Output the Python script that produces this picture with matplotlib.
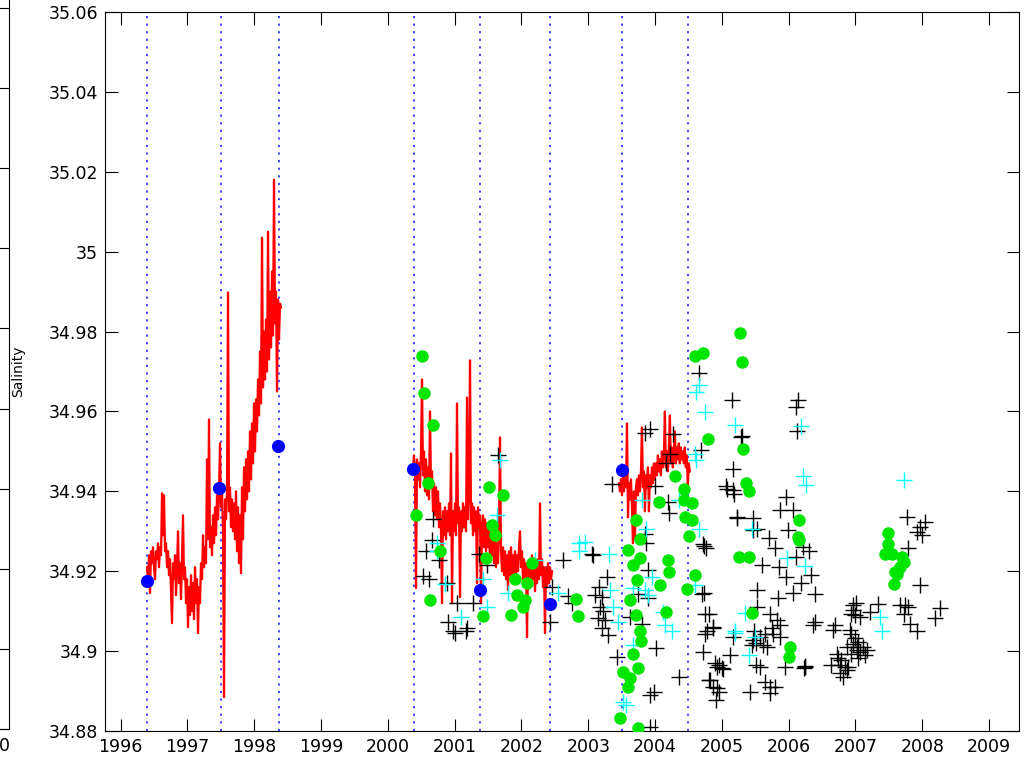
import numpy as np
import matplotlib
matplotlib.use("Agg")
import matplotlib.pyplot as plt
from matplotlib.ticker import FuncFormatter

# cruise / service dates (vertical dotted lines)
visit_years = [1996.39, 1997.50, 1998.37, 2000.39, 2001.38, 2002.43, 2003.51, 2004.49]

# CTD casts at the mooring visits
ctd_year = [1996.394, 1997.476, 1998.360, 2000.380, 2001.379, 2002.427, 2003.504]
ctd_sal = [34.9176, 34.9409, 34.9513, 34.9457, 34.9153, 34.9117, 34.9454]

# moored sensor records, evenly sampled between start and end
seg1_start, seg1_end = 1996.394, 1998.400
seg1_sal = [
    34.921, 34.917, 34.924, 34.9145, 34.925, 34.922, 34.926, 34.921, 34.918, 34.925,
    34.923, 34.927, 34.921, 34.926, 34.924, 34.9395, 34.929, 34.939, 34.925, 34.927,
    34.921, 34.925, 34.919, 34.923, 34.915, 34.907, 34.922, 34.918, 34.924, 34.914,
    34.921, 34.930, 34.917, 34.922, 34.913, 34.924, 34.934, 34.918, 34.921, 34.912,
    34.918, 34.906, 34.916, 34.909, 34.919, 34.910, 34.917, 34.908, 34.921, 34.912,
    34.918, 34.9045, 34.916, 34.912, 34.922, 34.918, 34.929, 34.921, 34.926, 34.922,
    34.948, 34.928, 34.958, 34.926, 34.931, 34.924, 34.934, 34.927, 34.936, 34.929,
    34.939, 34.933, 34.940, 34.952, 34.936, 34.940, 34.930, 34.8885, 34.938, 34.933,
    34.940, 34.9898, 34.935, 34.941, 34.931, 34.938, 34.930, 34.937, 34.928, 34.940,
    34.925, 34.936, 34.922, 34.934, 34.9195, 34.941, 34.928, 34.946, 34.935, 34.948,
    34.938, 34.950, 34.940, 34.955, 34.943, 34.957, 34.947, 34.962, 34.950, 34.963,
    34.955, 34.968, 34.959, 34.975, 34.962, 35.0035, 34.966, 34.980, 34.968, 34.983,
    34.970, 35.005, 34.973, 34.990, 34.976, 34.995, 34.979, 35.018, 34.982, 34.990,
    34.965, 34.988, 34.978, 34.987, 34.986,
]
seg2_start, seg2_end = 2000.376, 2002.457
seg2_sal = [
    34.946, 34.949, 34.944, 34.9158, 34.948, 34.943, 34.947, 34.941, 34.950, 34.968,
    34.944, 34.950, 34.940, 34.948, 34.939, 34.946, 34.938, 34.960, 34.941, 34.945,
    34.935, 34.942, 34.934, 34.941, 34.933, 34.940, 34.931, 34.937, 34.930, 34.912,
    34.935, 34.929, 34.936, 34.928, 34.935, 34.930, 34.937, 34.929, 34.9495, 34.912,
    34.935, 34.930, 34.937, 34.929, 34.962, 34.932, 34.936, 34.9135, 34.935, 34.930,
    34.937, 34.931, 34.936, 34.930, 34.9635, 34.933, 34.940, 34.9728, 34.932, 34.937,
    34.929, 34.936, 34.930, 34.935, 34.917, 34.936, 34.931, 34.934, 34.912, 34.931,
    34.934, 34.926, 34.933, 34.925, 34.932, 34.926, 34.930, 34.923, 34.929, 34.924,
    34.930, 34.922, 34.928, 34.921, 34.927, 34.922, 34.930, 34.9535, 34.925, 34.920,
    34.926, 34.919, 34.925, 34.918, 34.924, 34.9153, 34.925, 34.919, 34.926, 34.918,
    34.924, 34.917, 34.925, 34.919, 34.924, 34.920, 34.926, 34.930, 34.921, 34.925,
    34.918, 34.923, 34.916, 34.922, 34.9035, 34.921, 34.916, 34.923, 34.917, 34.924,
    34.918, 34.922, 34.915, 34.921, 34.917, 34.923, 34.918, 34.937, 34.919, 34.923,
    34.916, 34.921, 34.9045, 34.921, 34.916, 34.922, 34.917, 34.921, 34.918, 34.920,
]
seg3_start, seg3_end = 2003.460, 2004.520
seg3_sal = [
    34.942, 34.940, 34.943, 34.939, 34.944, 34.940, 34.945, 34.941, 34.957, 34.9335,
    34.942, 34.938, 34.943, 34.936, 34.927, 34.940, 34.928, 34.941, 34.943, 34.939,
    34.944, 34.940, 34.945, 34.956, 34.941, 34.945, 34.935, 34.944, 34.941, 34.946,
    34.935, 34.944, 34.941, 34.946, 34.942, 34.947, 34.943, 34.947, 34.944, 34.949,
    34.945, 34.948, 34.944, 34.950, 34.946, 34.949, 34.960, 34.946, 34.950, 34.945,
    34.951, 34.959, 34.947, 34.951, 34.946, 34.950, 34.955, 34.947, 34.951, 34.948,
    34.952, 34.947, 34.951, 34.948, 34.950, 34.947, 34.951, 34.946, 34.949, 34.941,
    34.947, 34.945,
]

# bottle samples (green dots)
btl_year = [
    2000.505, 2000.545, 2000.67, 2000.596, 2000.42, 2000.78, 2000.63,
    2001.518, 2001.727, 2001.554, 2001.60, 2001.47, 2001.43,
    2002.15, 2001.90, 2002.08, 2001.93, 2002.05, 2002.03, 2001.85, 2002.82, 2002.85,
    2005.27, 2005.30, 2004.60, 2004.71, 2004.79, 2005.32, 2004.30,
    2005.36, 2005.41, 2004.43, 2004.43, 2004.55, 2004.45, 2004.55, 2004.51,
    2004.06, 2003.71, 2003.77, 2003.60, 2003.78, 2003.67, 2004.20, 2004.21,
    2003.73, 2004.08, 2004.60, 2004.48, 2003.62, 2003.71, 2004.16, 2003.77, 2003.79,
    2003.67, 2003.75, 2003.52, 2003.62, 2003.60, 2003.47, 2003.75,
    2005.45, 2005.25, 2005.40,
    2006.16, 2006.14, 2006.16, 2006.02, 2006.00,
    2007.48, 2007.49, 2007.44, 2007.54, 2007.69, 2007.72, 2007.67, 2007.59, 2007.62, 2007.57,
]
btl_sal = [
    34.974, 34.9647, 34.9565, 34.942, 34.934, 34.925, 34.9128,
    34.941, 34.939, 34.9315, 34.929, 34.9232, 34.9088,
    34.922, 34.918, 34.917, 34.914, 34.9128, 34.911, 34.909, 34.913, 34.9088,
    34.9797, 34.9723, 34.974, 34.9747, 34.953, 34.9507, 34.9438,
    34.942, 34.940, 34.9407, 34.9378, 34.937, 34.9336, 34.9328, 34.9288,
    34.9373, 34.9328, 34.928, 34.9253, 34.9234, 34.9215, 34.9228, 34.9197,
    34.9178, 34.9165, 34.919, 34.9156, 34.9128, 34.909, 34.9098, 34.905, 34.9026,
    34.8994, 34.8957, 34.8948, 34.8932, 34.891, 34.8832, 34.8807,
    34.9096, 34.9236, 34.9236,
    34.9328, 34.9286, 34.9278, 34.9011, 34.8986,
    34.9296, 34.9269, 34.9244, 34.9244, 34.9236, 34.9223, 34.921, 34.9198, 34.9194, 34.9169,
]

# float profiles (black crosses)
flt_year = [
    2000.68, 2000.655, 2000.566, 2000.77, 2000.52, 2000.62, 2000.88,
    2001.04, 2001.27, 2000.90, 2000.97, 2001.00, 2001.19, 2001.17,
    2001.65, 2001.37, 2001.48, 2002.62, 2002.45, 2002.69, 2002.75, 2002.42,
    2004.65, 2005.15, 2003.93, 2003.85, 2004.27, 2005.30, 2004.68, 2004.23, 2004.16,
    2005.16, 2003.35, 2004.00, 2005.06, 2005.16, 2004.20, 2004.21, 2005.22, 2005.47, 2005.52,
    2003.85, 2003.87, 2004.72, 2004.76, 2003.28, 2003.90, 2003.05, 2003.07,
    2003.16, 2003.10, 2003.20, 2003.18, 2003.22, 2003.15, 2003.25, 2003.20, 2003.30,
    2003.75, 2003.90, 2003.62, 2003.81, 2004.02, 2003.43, 2004.36, 2003.93, 2003.98, 2003.92,
    2004.71, 2005.12, 2004.90, 2005.00, 2004.80, 2004.92, 2004.95, 2005.42,
    2004.75, 2004.80, 2004.75, 2004.87, 2004.70, 2005.51, 2005.48, 2005.51,
    2006.14, 2006.11, 2005.28, 2006.12, 2005.07, 2005.18, 2005.96, 2005.87, 2006.07,
    2005.23, 2005.46, 2005.71, 2005.80, 2005.99, 2006.21, 2006.31, 2006.11,
    2004.73, 2005.60, 2005.86, 2005.96, 2006.34, 2006.19, 2006.07, 2006.39, 2005.52, 2005.84,
    2004.73, 2005.52,
    2005.72, 2005.82, 2005.87, 2005.75, 2005.65, 2005.57, 2005.62, 2005.68, 2005.77, 2005.87,
    2004.77, 2004.87, 2005.47, 2005.45, 2005.17,
    2004.96, 2005.02, 2004.92, 2005.57, 2005.94, 2006.24, 2006.25, 2006.23,
    2004.82, 2004.87, 2004.91,
    2005.65, 2005.72, 2005.80, 2005.72,
    2006.39, 2006.37, 2006.69, 2006.67,
    2006.97, 2006.94, 2006.99, 2006.92,
    2006.97, 2007.02, 2006.87, 2006.72, 2006.79, 2006.84, 2006.77, 2006.82, 2006.64, 2006.94, 2007.02,
    2007.77, 2008.04, 2007.97, 2007.92, 2007.99, 2007.79, 2007.97,
    2007.01, 2006.97, 2007.07, 2007.22, 2007.34,
    2007.67, 2007.74, 2007.79, 2007.72, 2007.82, 2007.92, 2008.27, 2008.19,
    2006.94, 2006.99, 2007.04, 2007.12, 2007.17, 2007.07, 2007.14, 2007.04, 2006.89, 2006.74, 2006.77, 2006.87,
]
flt_sal = [
    34.933, 34.9278, 34.925, 34.9228, 34.9188, 34.918, 34.917,
    34.912, 34.912, 34.9073, 34.905, 34.9045, 34.9058, 34.905,
    34.949, 34.9243, 34.9215, 34.9228, 34.916, 34.9138, 34.912, 34.9073,
    34.9696, 34.9628, 34.9557, 34.9546, 34.9544, 34.9538, 34.9503, 34.9494, 34.947,
    34.9457, 34.9418, 34.9413, 34.9413, 34.9403, 34.9373, 34.9345, 34.9336, 34.9332, 34.9305,
    34.9294, 34.927, 34.9267, 34.9257, 34.9186, 34.9204, 34.9244, 34.924,
    34.916, 34.914, 34.9136, 34.911, 34.910, 34.9082, 34.9078, 34.9057, 34.904,
    34.9144, 34.9134, 34.9086, 34.9069, 34.9007, 34.8986, 34.8934, 34.889, 34.8898, 34.8811,
    34.8998, 34.899, 34.8969, 34.8957, 34.8928, 34.8907, 34.8898, 34.8898,
    34.9094, 34.9094, 34.9044, 34.9061, 34.9144, 34.8965, 34.905, 34.902,
    34.9629, 34.9612, 34.9536, 34.9551, 34.9407, 34.9394, 34.9386, 34.9354, 34.9354,
    34.9332, 34.9302, 34.9282, 34.9257, 34.9302, 34.926, 34.925, 34.9236,
    34.9262, 34.9215, 34.9211, 34.9186, 34.919, 34.9171, 34.9146, 34.9144, 34.9154, 34.9133,
    34.9146, 34.911,
    34.9094, 34.9078, 34.9065, 34.9057, 34.9044, 34.9036, 34.9015, 34.9011, 34.9044, 34.9036,
    34.905, 34.9057, 34.9028, 34.9015, 34.9036,
    34.8965, 34.8954, 34.896, 34.896, 34.896, 34.896, 34.8962, 34.8958,
    34.8928, 34.891, 34.8878,
    34.8923, 34.891, 34.891, 34.8894,
    34.9073, 34.9065, 34.9065, 34.9053,
    34.9115, 34.9094, 34.909, 34.9053,
    34.9019, 34.9003, 34.9011, 34.8994, 34.8978, 34.896, 34.8944, 34.8936, 34.8965, 34.8994, 34.9011,
    34.9336, 34.9323, 34.931, 34.9298, 34.929, 34.9257, 34.9165,
    34.912, 34.9103, 34.9086, 34.9098, 34.9118,
    34.9115, 34.9115, 34.911, 34.9094, 34.9069, 34.905, 34.9107, 34.9084,
    34.9044, 34.9032, 34.9023, 34.9011, 34.9003, 34.8998, 34.899, 34.8982, 34.896, 34.8982, 34.8965, 34.8953,
]

# second float set (cyan crosses)
flt2_year = [
    2001.68, 2000.74, 2000.74, 2000.855, 2001.10, 2001.43, 2001.48, 2001.63, 2002.20, 2001.80, 2002.55, 2002.86, 2002.86,
    2004.65, 2004.61, 2004.75, 2005.20, 2004.60, 2004.62, 2003.80, 2004.36, 2004.65, 2003.87, 2005.45,
    2002.95, 2003.31, 2003.95, 2003.32, 2003.67, 2003.85, 2003.90, 2003.37, 2003.45,
    2004.12, 2004.15, 2004.25, 2003.67, 2003.52, 2003.57, 2005.20, 2005.40, 2005.50,
    2006.18, 2006.22, 2006.26, 2005.97, 2006.24, 2004.60, 2005.35, 2005.20,
    2007.73, 2007.37, 2007.39,
]
flt2_sal = [
    34.9478, 34.927, 34.925, 34.9168, 34.9086, 34.918, 34.911, 34.934, 34.9228, 34.9146, 34.9146, 34.927, 34.925,
    34.9665, 34.9648, 34.9598, 34.9565, 34.9494, 34.9478, 34.9378, 34.9378, 34.9306, 34.9306, 34.9306,
    34.9273, 34.9244, 34.9186, 34.9153, 34.9157, 34.9153, 34.914, 34.911, 34.9073,
    34.9098, 34.9065, 34.905, 34.9015, 34.8873, 34.8865, 34.905, 34.899, 34.9036,
    34.9563, 34.9438, 34.9417, 34.9232, 34.9213, 34.9165, 34.9096, 34.9046,
    34.9428, 34.9086, 34.905,
]

W, H = 1029, 765
fig = plt.figure(figsize=(W / 100, H / 100), dpi=100)
plt.rcParams["font.family"] = "DejaVu Sans"

# neighbouring panel, only its right edge shows
axl = fig.add_axes([-0.5, 36 / H, 8.5 / W + 0.5, 801 / H])
axl.set_xlim(0, 523)
axl.set_ylim(0, 10)
axl.set_xticks([518.5])
axl.set_xticklabels(["0"], fontsize=12.5)
axl.set_yticks(range(11))
axl.set_yticklabels([])
axl.tick_params(axis="y", direction="in", length=9, right=True)
axl.tick_params(axis="x", length=0, pad=6)
axl.spines["top"].set_visible(False)

ax = fig.add_axes([105 / W, 34 / H, 914 / W, 719 / H])

ax.plot(np.linspace(seg1_start, seg1_end, len(seg1_sal)), seg1_sal, color="red", lw=1.6, zorder=2)
ax.plot(np.linspace(seg2_start, seg2_end, len(seg2_sal)), seg2_sal, color="red", lw=1.6, zorder=2)
ax.plot(np.linspace(seg3_start, seg3_end, len(seg3_sal)), seg3_sal, color="red", lw=1.6, zorder=2)

for yr in visit_years:
    ax.axvline(yr, color=(0.2, 0.2, 1.0), ls=(0, (1.2, 3)), lw=1.3, zorder=1)

ax.plot(flt_year, flt_sal, "+", color="black", ms=11, mew=1.0, zorder=3)
ax.plot(flt2_year, flt2_sal, "+", color="cyan", ms=11, mew=1.0, zorder=4)
ax.plot(btl_year, btl_sal, "o", color=(0, 0.9, 0), mec="none", ms=9, zorder=5)
ax.plot(ctd_year, ctd_sal, "o", color="blue", mec="none", ms=9.5, zorder=6)

ax.set_xlim(1995.765, 2009.448)
ax.set_ylim(34.88, 35.06)
ax.set_xticks(range(1996, 2010))
ax.set_yticks(np.arange(34.88, 35.0601, 0.02))
ax.yaxis.set_major_formatter(FuncFormatter(lambda v, p: "%g" % round(v, 2)))
ax.tick_params(direction="in", length=9, top=True, right=True, labelsize=12.5, pad=5)
ax.set_ylabel("Salinity", fontsize=10)
ax.yaxis.set_label_coords(-80 / 914, 0.5)

fig.savefig("out.png", dpi=100)
